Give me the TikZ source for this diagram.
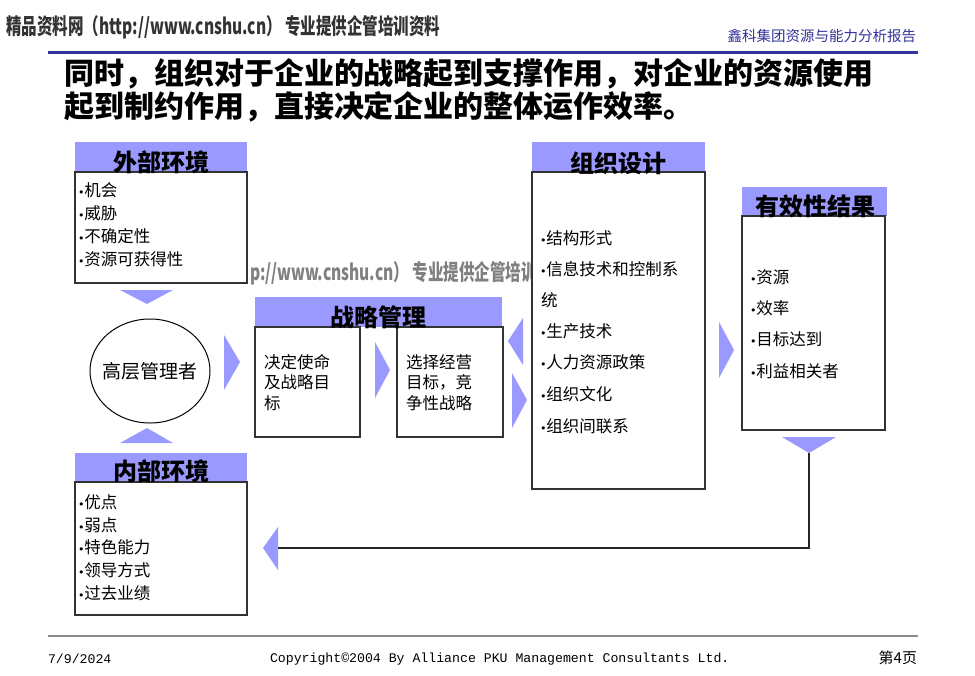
\documentclass[tikz,border=0pt]{standalone}
\usepackage{graphicx}
\usepackage{fontspec}
\setmainfont{Liberation Serif}
\newfontfamily\cjk{Noto Sans CJK SC}
\newfontfamily\mono{Liberation Mono}
\newfontfamily\dejavu{DejaVu Sans}
\usetikzlibrary{shapes.geometric}
\definecolor{hdr}{HTML}{9999FF}
\definecolor{navy}{HTML}{333399}
\newcommand{\bul}{{\dejavu\fontsize{11}{11}\selectfont •}}
\tikzset{
  hdrbox/.style={fill=hdr, draw=none, anchor=north west},
  bodybox/.style={fill=white, draw=black!80, line width=1.1pt, anchor=north west},
  hdrtext/.style={font=\cjk\bfseries\fontsize{24}{24}\selectfont},
  item/.style={anchor=west, font=\cjk\fontsize{16.5}{17}\selectfont},
  tri/.style={fill=hdr, draw=none},
  wmtext/.style={anchor=west}
}
\begin{document}
\begin{tikzpicture}[x=1pt,y=-1pt, every node/.style={inner sep=0pt, outer sep=0pt}]
\useasboundingbox (0,0) rectangle (975,675);
\fill[white] (0,0) rectangle (975,675);

% watermarks
\node[wmtext, text=black!80] (wmtop) at (6,27) {\scalebox{0.705}[1]{\cjk\bfseries\fontsize{22}{22}\selectfont 精品资料网（http://www.cnshu.cn） 专业提供企管培训资料}};
\node[wmtext, text=black!50] (wmmid) at (250,273) {\scalebox{0.705}[1]{\cjk\bfseries\fontsize{22}{22}\selectfont p://www.cnshu.cn） 专业提供企管培训}};

% header rule and brand
\draw[navy, line width=3pt] (48,52) -- (918,52);
\node[anchor=east, text=navy] (brand) at (916,36) {\cjk\fontsize{14.5}{15}\selectfont 鑫科集团资源与能力分析报告};

% title
\node[anchor=west] (t1) at (64,74) {\cjk\bfseries\fontsize{30}{30}\selectfont 同时，组织对于企业的战略起到支撑作用，对企业的资源使用};
\node[anchor=west] (t2) at (64,107) {\cjk\bfseries\fontsize{30}{30}\selectfont 起到制约作用，直接决定企业的整体运作效率。};

% external environment
\node[hdrbox, minimum width=172, minimum height=30] (exth) at (75,142) {};
\node[bodybox, minimum width=172, minimum height=111] (extb) at (75,172) {};
\node[hdrtext] (extt) at (161,162) {外部环境};
\node[item] (ext1) at (78,190) {\bul 机会};
\node[item] (ext2) at (78,213) {\bul 威胁};
\node[item] (ext3) at (78,236) {\bul 不确定性};
\node[item] (ext4) at (78,259) {\bul 资源可获得性};

% triangles around manager
\fill[tri] (120,290) -- (173,290) -- (147,304) -- cycle;
\fill[tri] (120,443) -- (173,443) -- (147,428) -- cycle;

% manager
\node[draw, ellipse, minimum width=120, minimum height=104, line width=1pt] (mgr) at (150,371) {};
\node[font=\cjk\fontsize{19}{19}\selectfont] (mgrT) at (mgr.center) {高层管理者};
\fill[tri] (224,335) -- (240,362) -- (224,390) -- cycle;

% strategic management
\node[hdrbox, minimum width=247, minimum height=30] (stratH) at (255,297) {};
\node[bodybox, minimum width=105, minimum height=110] (mission) at (255,327) {};
\node[bodybox, minimum width=106, minimum height=110] (choice) at (397,327) {};
\node[hdrtext] (stratT) at (378,317) {战略管理};
\node[item] (mis1) at (264,362) {决定使命};
\node[item] (mis2) at (264,382) {及战略目};
\node[item] (mis3) at (264,403) {标};
\fill[tri] (375,342) -- (390,370) -- (375,398) -- cycle;
\node[item] (cho1) at (406,362) {选择经营};
\node[item] (cho2) at (406,382) {目标，竞};
\node[item] (cho3) at (406,403) {争性战略};
\fill[tri] (523,318) -- (508,341) -- (523,365) -- cycle;
\fill[tri] (512,373) -- (527,400) -- (512,428) -- cycle;

% organisation design
\node[hdrbox, minimum width=173, minimum height=30] (orgH) at (532,142) {};
\node[bodybox, minimum width=173, minimum height=317] (orgB) at (532,172) {};
\node[hdrtext] (orgT) at (618,163) {组织设计};
\node[item] (org1) at (540,238) {\bul 结构形式};
\node[item] (org2) at (540,269) {\bul 信息技术和控制系};
\node[item] (org3) at (541,300) {统};
\node[item] (org4) at (540,331) {\bul 生产技术};
\node[item] (org5) at (540,362) {\bul 人力资源政策};
\node[item] (org6) at (540,394) {\bul 组织文化};
\node[item] (org7) at (540,426) {\bul 组织间联系};
\fill[tri] (719,322) -- (734,350) -- (719,378) -- cycle;

% effectiveness results
\node[hdrbox, minimum width=145, minimum height=29] (effH) at (742,187) {};
\node[bodybox, minimum width=143, minimum height=214] (effB) at (742,216) {};
\node[hdrtext] (effT) at (815,206) {有效性结果};
\node[item] (eff1) at (750,277) {\bul 资源};
\node[item] (eff2) at (750,308) {\bul 效率};
\node[item] (eff3) at (750,339) {\bul 目标达到};
\node[item] (eff4) at (750,371) {\bul 利益相关者};
\fill[tri] (782,437) -- (836,437) -- (809,453) -- cycle;

% feedback connector
\coordinate (effTip) at (809,453);
\coordinate (backTip) at (278,548);
\draw[black!85, line width=1.2pt] (effTip) |- (backTip);
\fill[tri] (278,527) -- (263,548) -- (278,570) -- cycle;

% internal environment
\node[hdrbox, minimum width=172, minimum height=29] (intH) at (75,453) {};
\node[bodybox, minimum width=172, minimum height=133] (intB) at (75,482) {};
\node[hdrtext] (intT) at (161,471) {内部环境};
\node[item] (int1) at (78,502) {\bul 优点};
\node[item] (int2) at (78,525) {\bul 弱点};
\node[item] (int3) at (78,547) {\bul 特色能力};
\node[item] (int4) at (78,570) {\bul 领导方式};
\node[item] (int5) at (78,593) {\bul 过去业绩};

% footer
\draw[black!45, line width=2pt] (48,636) -- (918,636);
\node[anchor=west] (date) at (48,659) {\mono\fontsize{13.2}{14}\selectfont 7/9/2024};
\node[anchor=west] (copy) at (270,659) {\mono\fontsize{13.2}{14}\selectfont Copyright©2004 By Alliance PKU Management Consultants Ltd.};
\node[anchor=east] (page) at (917,658) {\cjk\fontsize{15}{15}\selectfont 第4页};
\end{tikzpicture}
\end{document}
